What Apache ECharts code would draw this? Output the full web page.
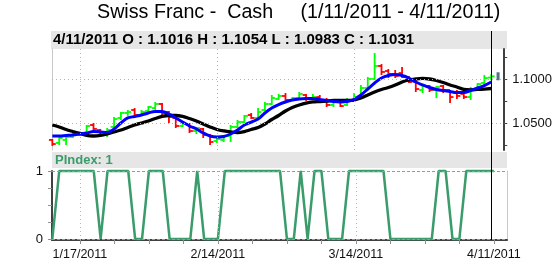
<!DOCTYPE html>
<html><head><meta charset="utf-8">
<script src="https://cdn.jsdelivr.net/npm/echarts@6/dist/echarts.min.js"></script>
<style>html,body{margin:0;padding:0;background:#fff}#c{width:555px;height:262px}</style>
</head><body><div id="c"></div>
<script>
const dates = ['1/11/2011','1/12/2011','1/13/2011','1/14/2011','1/17/2011','1/18/2011','1/19/2011','1/20/2011','1/21/2011','1/24/2011','1/25/2011','1/26/2011','1/27/2011','1/28/2011','1/31/2011',
'2/1/2011','2/2/2011','2/3/2011','2/4/2011','2/7/2011','2/8/2011','2/9/2011','2/10/2011','2/11/2011','2/14/2011','2/15/2011','2/16/2011','2/17/2011','2/18/2011','2/21/2011','2/22/2011','2/23/2011','2/24/2011','2/25/2011','2/28/2011',
'3/1/2011','3/2/2011','3/3/2011','3/4/2011','3/7/2011','3/8/2011','3/9/2011','3/10/2011','3/11/2011','3/14/2011','3/15/2011','3/16/2011','3/17/2011','3/18/2011','3/21/2011','3/22/2011','3/23/2011','3/24/2011','3/25/2011','3/28/2011','3/29/2011','3/30/2011','3/31/2011',
'4/1/2011','4/4/2011','4/5/2011','4/6/2011','4/7/2011','4/8/2011','4/11/2011'];

const openV  = [1.0307,1.0273,1.0307,1.0341,1.0364,1.0386,1.0477,1.0420,1.0364,1.0455,1.0557,1.0614,1.0648,1.0591,1.0636,1.0670,1.0716,1.0625,1.0557,1.0466,1.0489,1.0409,1.0432,1.0364,1.0295,1.0307,1.0352,1.0455,1.0511,1.0591,1.0557,1.0648,1.0716,1.0773,1.0807,1.0761,1.0784,1.0818,1.0773,1.0795,1.0761,1.0705,1.0739,1.0705,1.0750,1.0807,1.0898,1.1000,1.1148,1.1091,1.1057,1.1068,1.1023,1.0977,1.0875,1.0920,1.0875,1.0920,1.0875,1.0841,1.0830,1.0795,1.0886,1.0955,1.1016];
const highV  = [1.0318,1.0352,1.0364,1.0398,1.0398,1.0477,1.0500,1.0432,1.0443,1.0568,1.0625,1.0648,1.0670,1.0648,1.0693,1.0739,1.0727,1.0636,1.0568,1.0511,1.0500,1.0455,1.0443,1.0375,1.0330,1.0364,1.0477,1.0534,1.0591,1.0614,1.0670,1.0739,1.0818,1.0830,1.0841,1.0795,1.0852,1.0830,1.0830,1.0818,1.0784,1.0761,1.0761,1.0784,1.0841,1.0932,1.1023,1.1295,1.1170,1.1114,1.1102,1.1136,1.1034,1.1011,1.0932,1.0932,1.0920,1.0932,1.0875,1.0875,1.0852,1.0909,1.0955,1.1045,1.1054];
const lowV   = [1.0239,1.0250,1.0250,1.0330,1.0352,1.0364,1.0420,1.0341,1.0341,1.0443,1.0534,1.0580,1.0557,1.0580,1.0614,1.0648,1.0591,1.0500,1.0443,1.0455,1.0386,1.0375,1.0330,1.0250,1.0273,1.0284,1.0284,1.0443,1.0500,1.0545,1.0534,1.0636,1.0705,1.0761,1.0739,1.0750,1.0773,1.0750,1.0761,1.0750,1.0682,1.0682,1.0682,1.0693,1.0739,1.0795,1.0886,1.0989,1.1045,1.1011,1.1011,1.1011,1.0955,1.0852,1.0841,1.0852,1.0784,1.0841,1.0727,1.0773,1.0773,1.0761,1.0875,1.0932,1.0983];
const closeV = [1.0261,1.0330,1.0341,1.0375,1.0386,1.0466,1.0432,1.0364,1.0420,1.0545,1.0614,1.0625,1.0591,1.0625,1.0682,1.0716,1.0614,1.0568,1.0466,1.0500,1.0409,1.0443,1.0364,1.0284,1.0318,1.0352,1.0455,1.0511,1.0580,1.0557,1.0625,1.0716,1.0784,1.0807,1.0761,1.0784,1.0830,1.0773,1.0795,1.0761,1.0705,1.0739,1.0693,1.0750,1.0795,1.0898,1.1000,1.1148,1.1080,1.1057,1.1034,1.1023,1.0966,1.0886,1.0920,1.0875,1.0909,1.0875,1.0795,1.0807,1.0795,1.0886,1.0943,1.1011,1.1031];

const maFast = [1.0352,1.0352,1.0358,1.0364,1.0375,1.0386,1.0403,1.0398,1.0392,1.0432,1.0500,1.0557,1.0574,1.0591,1.0614,1.0631,1.0631,1.0602,1.0557,1.0511,1.0466,1.0432,1.0386,1.0352,1.0341,1.0347,1.0375,1.0420,1.0477,1.0511,1.0545,1.0614,1.0670,1.0710,1.0739,1.0761,1.0773,1.0778,1.0778,1.0767,1.0756,1.0744,1.0739,1.0744,1.0767,1.0818,1.0886,1.0955,1.1011,1.1040,1.1051,1.1040,1.1011,1.0966,1.0932,1.0903,1.0881,1.0869,1.0858,1.0847,1.0847,1.0869,1.0898,1.0926,1.0966];
const maSlow = [1.0477,1.0455,1.0426,1.0403,1.0381,1.0358,1.0352,1.0358,1.0375,1.0398,1.0420,1.0449,1.0477,1.0500,1.0523,1.0551,1.0574,1.0585,1.0585,1.0574,1.0551,1.0523,1.0489,1.0455,1.0426,1.0409,1.0398,1.0392,1.0403,1.0426,1.0449,1.0489,1.0540,1.0585,1.0636,1.0676,1.0705,1.0727,1.0739,1.0744,1.0750,1.0756,1.0756,1.0756,1.0761,1.0784,1.0818,1.0852,1.0881,1.0903,1.0932,1.0966,1.0989,1.1000,1.1006,1.1000,1.0983,1.0960,1.0932,1.0909,1.0881,1.0875,1.0881,1.0886,1.0892];

const pIndex = [0,1,1,1,1,1,1,0,1,1,1,1,0,0,1,1,1,0,0,0,0,1,0,0,0,1,1,1,1,1,1,1,1,1,0,0,1,0,1,1,0,0,0,1,1,1,1,1,1,0,0,0,0,0,0,0,1,1,0,0,1,1,1,1,1];

const priceTicks = [1.025,1.05,1.075,1.1,1.125];
const priceLabels = [1.05,1.1];
const priceGrid = [1.05,1.1];
const dateTickIdx = [4,9,14,19,24,29,34,39,44,49,54,59,64];
const dateLabelIdx = [4,24,44,64];
const dateGridIdx = [4,24,44];
const pTicks = [0,0.25,0.5,0.75,1];
const pLabels = [0,1];
const lastIdx = 64;

const FF = "'Liberation Sans', Arial, sans-serif";
const chart = echarts.init(document.getElementById('c'), null, {renderer:'canvas'});
const xMin = -0.05, xMax = 65.9;

const ohlc = openV.map((o,i)=>[i,o,highV[i],lowV[i],closeV[i]]);

const option = {
  animation:false,
  backgroundColor:'#fff',
  title:{text:'Swiss Franc -  Cash     (1/11/2011 - 4/11/2011)', left:97, top:3, padding:0,
    textStyle:{fontFamily:FF,fontSize:19.7,fontWeight:'normal',color:'#000'}},
  grid:[{left:52,right:48,top:49,height:101},{left:52,right:48,top:171,height:69}],
  xAxis:[
    {type:'value',gridIndex:0,min:xMin,max:xMax,axisLine:{show:false},axisTick:{show:false},axisLabel:{show:false},splitLine:{show:false}},
    {type:'value',gridIndex:1,min:xMin,max:xMax,
      axisLine:{show:true,onZero:false,lineStyle:{color:'#404040',width:2}},
      axisTick:{show:true,customValues:dateTickIdx,length:4,lineStyle:{color:'#909090'}},
      axisLabel:{show:true,customValues:dateLabelIdx,formatter:v=>dates[Math.round(v)]||'',fontSize:12.5,color:'#111',margin:8,fontFamily:FF},
      splitLine:{show:false}}
  ],
  yAxis:[
    {type:'value',gridIndex:0,position:'right',min:1.0193,max:1.1341,
      axisLine:{show:true,onZero:false,lineStyle:{color:'#404040',width:2}},
      axisTick:{show:true,customValues:priceTicks,length:3,lineStyle:{color:'#404040'}},
      axisLabel:{show:true,customValues:priceLabels,formatter:v=>v.toFixed(4),fontSize:13,color:'#111',margin:8,fontFamily:FF},
      splitLine:{show:false}},
    {type:'value',gridIndex:0,position:'left',min:1.0193,max:1.1341,
      axisLine:{show:true,onZero:false,lineStyle:{color:'#c8c8c8',width:1}},
      axisTick:{show:false},axisLabel:{show:false},splitLine:{show:false}},
    {type:'value',gridIndex:1,position:'left',min:-0.015,max:1,
      axisLine:{show:true,onZero:false,lineStyle:{color:'#404040',width:2}},
      axisTick:{show:true,customValues:pTicks,length:4,lineStyle:{color:'#909090'}},
      axisLabel:{show:true,customValues:pLabels,formatter:v=>String(Math.round(v)),fontSize:13,color:'#111',margin:9,fontFamily:FF},
      splitLine:{show:false}},
    {type:'value',gridIndex:1,position:'right',min:-0.015,max:1,
      axisLine:{show:true,onZero:false,lineStyle:{color:'#c8c8c8',width:1}},
      axisTick:{show:false},axisLabel:{show:false},splitLine:{show:false}}
  ],
  series:[
    {type:'line',xAxisIndex:0,yAxisIndex:0,data:[],z:1,silent:true,
      markLine:{silent:true,symbol:'none',label:{show:false},animation:false,
        lineStyle:{color:'#b4b4b4',type:[1,3],width:1},
        data:priceGrid.map(v=>({yAxis:v})).concat(dateGridIdx.map(v=>({xAxis:v})))}},
    {type:'custom',xAxisIndex:0,yAxisIndex:0,data:ohlc,z:2,
      encode:{x:0,y:[1,2,3,4]},
      renderItem:function(params,api){
        const x=api.value(0),o=api.value(1),h=api.value(2),l=api.value(3),c=api.value(4);
        const pH=api.coord([x,h]),pL=api.coord([x,l]),pO=api.coord([x,o]),pC=api.coord([x,c]);
        const w=api.size([1,0])[0]*0.5;
        const col=c>=o?'#00ff00':'#ff0000';
        const st={stroke:col,lineWidth:1.8};
        return {type:'group',children:[
          {type:'line',shape:{x1:pH[0],y1:pH[1],x2:pL[0],y2:pL[1]},style:st},
          {type:'line',shape:{x1:pO[0]-w,y1:pO[1],x2:pO[0],y2:pO[1]},style:st},
          {type:'line',shape:{x1:pC[0],y1:pC[1],x2:pC[0]+w,y2:pC[1]},style:st}
        ]};
      }},
    {type:'line',xAxisIndex:0,yAxisIndex:0,data:maSlow.map((v,i)=>[i,v]),showSymbol:false,smooth:0.35,z:3,
      lineStyle:{color:'#000',width:3.3}},
    {type:'line',xAxisIndex:0,yAxisIndex:0,data:maFast.map((v,i)=>[i,v]),showSymbol:false,smooth:0.35,z:4,
      lineStyle:{color:'#0000ff',width:3}},
    {type:'scatter',xAxisIndex:0,yAxisIndex:0,data:[[lastIdx+1,closeV[lastIdx]]],symbol:'rect',symbolSize:[3,8],z:5,
      itemStyle:{color:'#1f4f6f'}},
    {type:'line',xAxisIndex:1,yAxisIndex:2,data:[],z:1,silent:true,
      markLine:{silent:true,symbol:'none',label:{show:false},animation:false,
        data:[{yAxis:1,lineStyle:{color:'#999',type:[3,2],width:1}},{yAxis:0,lineStyle:{color:'#999',type:[3,2],width:1}}]
          .concat(dateGridIdx.map(v=>({xAxis:v,lineStyle:{color:'#b4b4b4',type:[1,3],width:1}})))}},
    {type:'line',xAxisIndex:1,yAxisIndex:2,data:pIndex.map((v,i)=>[i,v]),showSymbol:false,clip:false,z:3,
      lineStyle:{color:'#3a9b6b',width:2.5}}
  ]
};
chart.setOption(option);

const cx = chart.convertToPixel({xAxisIndex:0}, lastIdx);
chart.setOption({graphic:{elements:[
  {type:'rect',id:'h1',shape:{x:51,y:31,width:456,height:18},style:{fill:'#e6e6e6'},z:0},
  {type:'text',id:'t1',x:53,y:40,style:{text:'4/11/2011 O : 1.1016 H : 1.1054 L : 1.0983 C : 1.1031',font:"bold 15px 'Liberation Sans', Arial, sans-serif",fill:'#000',verticalAlign:'middle'},z:1},
  {type:'rect',id:'h2',shape:{x:52,y:152,width:455,height:16},style:{fill:'#e6e6e6'},z:0},
  {type:'text',id:'t2',x:55,y:160,style:{text:'PIndex: 1',font:"bold 13px 'Liberation Sans', Arial, sans-serif",fill:'#3a9b6b',verticalAlign:'middle'},z:1},
  {type:'line',id:'cur',shape:{x1:Math.round(cx)+0.5,y1:31,x2:Math.round(cx)+0.5,y2:240},style:{stroke:'#000',lineWidth:1},z:10}
]}});
</script></body></html>
